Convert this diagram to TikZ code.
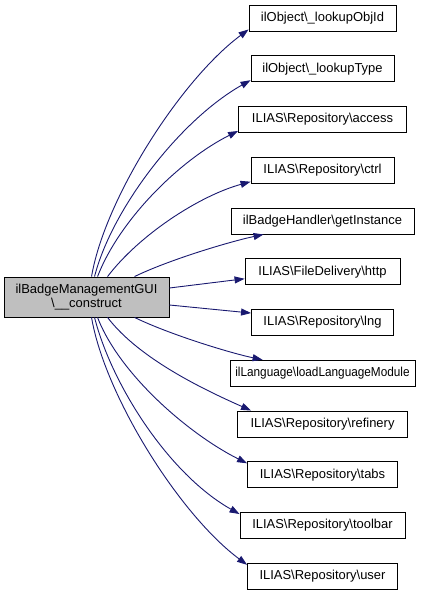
\documentclass[tikz,border=0pt]{standalone}
\usepackage{fontspec}
\setmainfont{Liberation Sans}
\usetikzlibrary{arrows.meta}
\definecolor{edgecol}{HTML}{191970}
\definecolor{srcfill}{HTML}{BFBFBF}
\begin{document}
\begin{tikzpicture}[x=1bp,y=-1bp,
  every node/.style={font=\fontsize{13}{14}\selectfont},
  box/.style={draw=black, line width=0.9bp, inner sep=0pt, minimum height=26bp},
  srcbox/.style={box, fill=srcfill, minimum height=40bp, minimum width=165bp, align=center},
  edge/.style={draw=edgecol, line width=0.9bp, -{Triangle[length=10bp,width=7bp]}}]
\useasboundingbox (0,0) rectangle (433,595);
\node[srcbox] (s) at (86.5,297) {ilBadgeManagementGUI\\\textbackslash\_\_construct};
\node[box, minimum width=147bp] (t1) at (322.5,18) {ilObject\textbackslash\_lookupObjId};
\node[box, minimum width=143bp] (t2) at (322.5,68.75) {ilObject\textbackslash\_lookupType};
\node[box, minimum width=168bp] (t3) at (322.5,119.5) {ILIAS\textbackslash Repository\textbackslash access};
\node[box, minimum width=143bp] (t4) at (322.5,170.25) {ILIAS\textbackslash Repository\textbackslash ctrl};
\node[box, minimum width=183bp] (t5) at (322.5,221) {ilBadgeHandler\textbackslash getInstance};
\node[box, minimum width=155bp] (t6) at (322.5,271.75) {ILIAS\textbackslash FileDelivery\textbackslash http};
\node[box, minimum width=142bp] (t7) at (322.5,322.5) {ILIAS\textbackslash Repository\textbackslash lng};
\node[box, minimum width=185bp] (t8) at (322.5,373.25) {\scalebox{0.91}[1]{ilLanguage\textbackslash loadLanguageModule}};
\node[box, minimum width=170bp] (t9) at (322.5,424) {ILIAS\textbackslash Repository\textbackslash refinery};
\node[box, minimum width=150bp] (t10) at (322.5,474.75) {ILIAS\textbackslash Repository\textbackslash tabs};
\node[box, minimum width=165bp] (t11) at (322.5,525.5) {ILIAS\textbackslash Repository\textbackslash toolbar};
\node[box, minimum width=150bp] (t12) at (322.5,576.25) {ILIAS\textbackslash Repository\textbackslash user};
% upper fan
\draw[edge] ([xshift=88bp]s.north west) .. controls +(13,-77) and +(-68.5,51) .. ([yshift=2bp]t1.south west);
\draw[edge] ([xshift=91bp]s.north west) .. controls +(17,-67) and +(-71,40) .. ([yshift=2bp]t2.south west);
\draw[edge] ([xshift=94bp]s.north west) .. controls +(22,-57) and +(-58,29) .. ([yshift=2bp]t3.south west);
\draw[edge] ([xshift=104bp]s.north west) .. controls +(32,-42) and +(-51,14) .. ([yshift=2bp]t4.south west);
\draw[edge] ([xshift=131bp]s.north west) .. controls +(35,-17) and +(-33,7) .. ([xshift=33bp]t5.south west);
% straight
\draw[edge] ([yshift=9bp]s.east) -- ([yshift=-7bp]t6.west);
\draw[edge] ([yshift=-8bp]s.east) -- ([yshift=-4bp]t7.north west);
% lower fan
\draw[edge] ([xshift=131bp]s.south west) .. controls +(35,17) and +(-33,-7) .. ([xshift=33bp]t8.north west);
\draw[edge] ([xshift=104bp]s.south west) .. controls +(32,42) and +(-45,-20) .. ([xshift=14bp]t9.north west);
\draw[edge] ([xshift=94bp]s.south west) .. controls +(22,57) and +(-58,-29) .. ([yshift=-2bp]t10.north west);
\draw[edge] ([xshift=91bp]s.south west) .. controls +(17,67) and +(-71,-40) .. ([yshift=-2bp]t11.north west);
\draw[edge] ([xshift=88bp]s.south west) .. controls +(13,77) and +(-68.5,-51) .. ([yshift=-2bp]t12.north west);
\end{tikzpicture}
\end{document}
